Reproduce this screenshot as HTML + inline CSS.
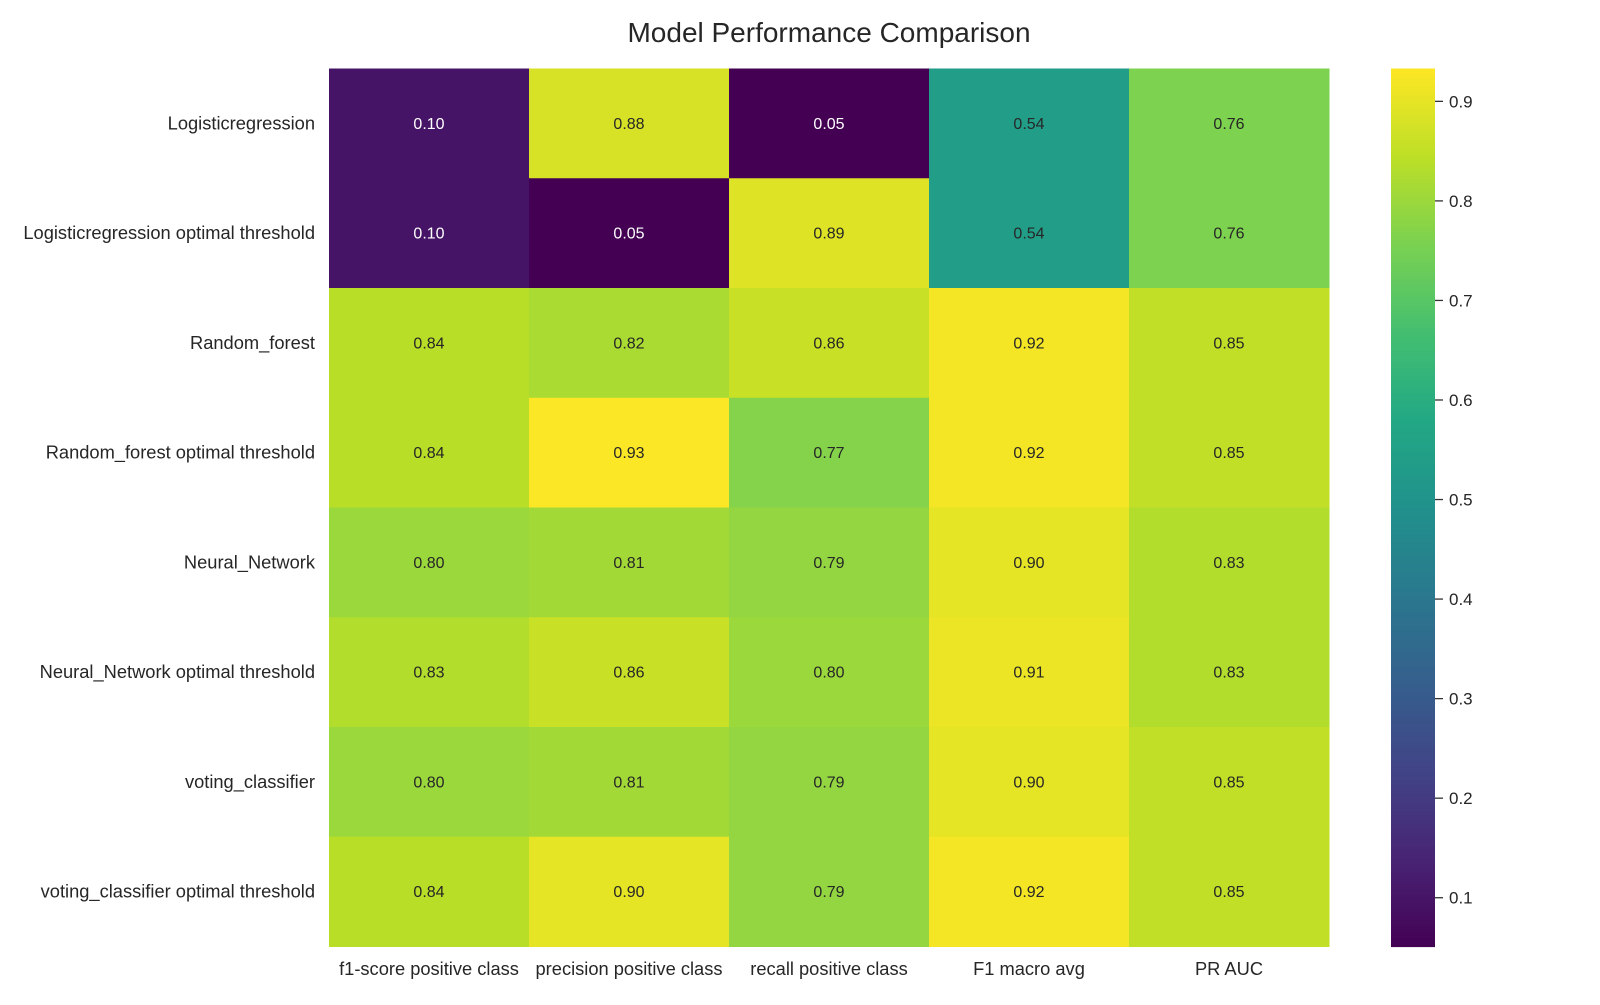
<!DOCTYPE html>
<html><head><meta charset="utf-8"><style>
body{margin:0;background:#fff;}
svg text{font-family:"Liberation Sans",Arial,sans-serif;fill:#262626;}
</style></head><body>
<svg id="chart" width="1600" height="1000" viewBox="0 0 1600 1000">
<text x="829" y="42" font-size="28" text-anchor="middle">Model Performance Comparison</text>
<g id="cells"></g><g id="ylabels"></g><g id="xlabels"></g><g id="cbar"></g>
</svg>
<script>
const rows = ["Logisticregression","Logisticregression optimal threshold","Random_forest","Random_forest optimal threshold","Neural_Network","Neural_Network optimal threshold","voting_classifier","voting_classifier optimal threshold"];
const cols = ["f1-score positive class","precision positive class","recall positive class","F1 macro avg","PR AUC"];
const values = [
[0.10,0.88,0.05,0.54,0.76],
[0.10,0.05,0.89,0.54,0.76],
[0.84,0.82,0.86,0.92,0.85],
[0.84,0.93,0.77,0.92,0.85],
[0.80,0.81,0.79,0.90,0.83],
[0.83,0.86,0.80,0.91,0.83],
[0.80,0.81,0.79,0.90,0.85],
[0.84,0.90,0.79,0.92,0.85]];
const cbarTicks = [0.1,0.2,0.3,0.4,0.5,0.6,0.7,0.8,0.9];
const vmin=0.051, vmax=0.933;
const L=329,R=1329,T=68.5,B=946.5;
const cw=(R-L)/cols.length, rh=(B-T)/rows.length;
const stops=["#440154","#482475","#414487","#355f8d","#2a788e","#21918c","#22a884","#44bf70","#7ad151","#bddf26","#fde725"];
function hex(h){return [1,3,5].map(i=>parseInt(h.substr(i,2),16));}
function viridis(t){t=Math.max(0,Math.min(1,t));const p=t*10,i=Math.min(9,Math.floor(p)),f=p-i;const a=hex(stops[i]),b=hex(stops[i+1]);return a.map((v,k)=>Math.round(v+(b[k]-v)*f));}
const NS="http://www.w3.org/2000/svg";
function mk(tag,attrs,parent){const e=document.createElementNS(NS,tag);for(const k in attrs)e.setAttribute(k,attrs[k]);parent.appendChild(e);return e;}
const xs=j=>L+j*cw, ys=i=>T+i*rh;
const cg=document.getElementById('cells');
values.forEach((row,i)=>row.forEach((v,j)=>{
 const c=viridis((v-vmin)/(vmax-vmin));
 const r=mk('rect',{x:xs(j),y:ys(i),width:cw+0.5,height:rh+0.5,fill:`rgb(${c})`},cg);
 
 
 const lum=0.2126*c[0]+0.7152*c[1]+0.0722*c[2];
 const t=mk('text',{x:xs(j)+cw/2,y:ys(i)+rh/2+5.5,'font-size':16,'text-anchor':'middle'},cg);
 t.style.fill=lum<100?'#fff':'#262626';
 t.textContent=v.toFixed(2);
 
 
}));
const yg=document.getElementById('ylabels');
rows.forEach((n,i)=>{const t=mk('text',{x:315,y:ys(i)+rh/2+6,'font-size':18.3,'text-anchor':'end'},yg);t.textContent=n;
 
 });
const xg=document.getElementById('xlabels');
cols.forEach((n,j)=>{const t=mk('text',{x:xs(j)+cw/2,y:975,'font-size':18.3,'text-anchor':'middle'},xg);t.textContent=n;
 
 });
const bg=document.getElementById('cbar');
const CX=1391,CW=44;
const cy=v=>B-(v-vmin)/(vmax-vmin)*(B-T);
const N=200;
for(let k=0;k<N;k++){const v0=vmin+(vmax-vmin)*k/N,v1=vmin+(vmax-vmin)*(k+1)/N;const c=viridis((k+0.5)/N);
 const r=mk('rect',{x:CX,y:cy(v1),width:CW,height:cy(v0)-cy(v1)+0.6,fill:`rgb(${c})`},bg);
 
 }
cbarTicks.forEach(v=>{const y=cy(v);
 const l=mk('line',{x1:CX+CW,x2:CX+CW+8,y1:y,y2:y,stroke:'#333','stroke-width':1.3},bg);
 
 
 const t=mk('text',{x:CX+CW+14,y:y+6,'font-size':17},bg);t.textContent=v.toFixed(1);
 
 });
</script>
</body></html>
